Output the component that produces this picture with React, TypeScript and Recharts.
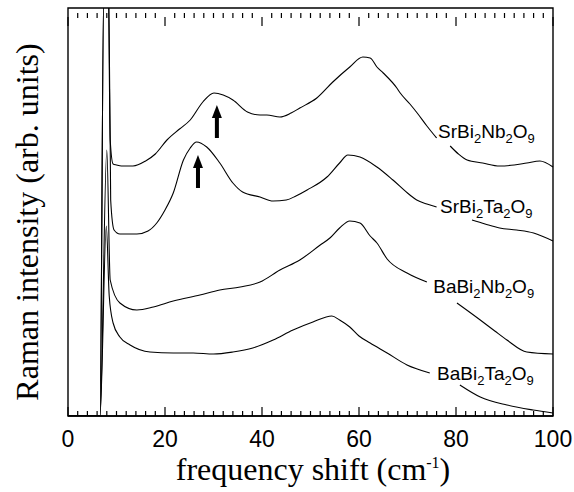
import { LineChart, Line, XAxis, YAxis, ReferenceDot, ReferenceArea } from "recharts";

// frequency shift (cm-1) and intensity (arb. units) for each sample; null = gap behind the label
const srNbFreq = [0, 6.6, 7.4, 8.3, 8.7, 9.3, 10, 11, 13.4, 16, 18, 20.4, 23, 25.2, 27.8, 30.1, 32, 34, 37, 39.6, 41, 43.7, 46, 47.8, 51.3, 54.6, 58.1, 60.8, 62.3, 63.7, 65, 67.8, 68.5, 70.5, 72, 74, 76, 77.5, 78.8, 80.5, 82.3, 85.5, 89, 92, 94.6, 97.3, 100];
const srNbInt = [0, 0, 430, 430, 276, 252, 251, 250, 250, 255, 262, 276, 287, 296, 314, 323, 321, 316, 304, 301, 301, 299, 303, 308, 318, 334, 349, 359, 358, 349, 343, 328, 323, 312, 303, 290, 278, null, 270, 262, 256, 253, 250, 251, 253, 255, 249];

const srTaFreq = [0, 6.6, 7.4, 8.4, 8.8, 9.5, 10.7, 14.2, 16.5, 18.3, 20, 21.7, 23.8, 25.2, 26.5, 28.6, 31.3, 34, 36, 39.6, 42.3, 45, 47, 49.3, 53.4, 56, 57.7, 60.2, 63.7, 67, 70.5, 71.9, 74, 76, 79, 83.3, 86, 89, 92.5, 96, 100];
const srTaInt = [0, 0, 430, 430, 216, 186, 182, 182, 185, 193, 206, 223, 256, 268, 274, 269, 253, 233, 224, 219, 215, 216, 220, 226, 239, 253, 261, 259, 249, 236, 221, 216, 212, 209, null, 196, 192, 188, 186, 183, 175];

const baNbFreq = [0, 6.6, 8.0, 8.7, 10.7, 14.2, 17.6, 21.7, 27.2, 31.3, 35.5, 39.6, 43.7, 47.8, 52, 54, 56, 58.1, 60.2, 62.3, 63.7, 65.8, 69.9, 74, 77, 80.2, 85, 88, 90.5, 94.6, 100];
const baNbInt = [0, 0, 266, 136, 113, 106, 109, 115, 121, 126, 129, 134, 146, 156, 171, 178, 188, 195, 193, 180, 173, 157, 143, 134, null, 113, 96, 85, 76, 64, 62];

const baTaFreq = [0, 6.6, 7.9, 8.5, 9.3, 10.7, 12.8, 16.9, 21.7, 25.8, 30, 34, 38.1, 42.3, 46.4, 50.5, 54.4, 56, 58.1, 60, 62.3, 65.8, 69.9, 74.6, 77.5, 80.8, 85, 90.5, 95.9, 100];
const baTaInt = [0, 0, 190, 120, 93, 79, 71, 64, 63, 63, 62, 64, 68, 76, 86, 94, 100, 96, 89, 80, 73, 63, 51, 43, null, 31, 19, 11, 6, 3];

const sampleNames = ["SrBi2Nb2O9", "SrBi2Ta2O9", "BaBi2Nb2O9", "BaBi2Ta2O9"];
const labelFreq = [76.3, 76.7, 75.3, 76.1];
const labelInt = [278, 203, 123, 36];

const arrowFreq = [30.7, 26.8];
const arrowInt = [311, 261];

const Y_MAX = 408;
const majorTicks = [0, 20, 40, 60, 80, 100];
const allTicks: number[] = [];
for (let t = 0; t <= 100; t += 2) allTicks.push(t);

const toRows = (f: number[], v: (number | null)[]) => f.map((x, i) => ({ f: x, v: v[i] }));
const series = [
  toRows(srNbFreq, srNbInt),
  toRows(srTaFreq, srTaInt),
  toRows(baNbFreq, baNbInt),
  toRows(baTaFreq, baTaInt),
];

const sans = "'Liberation Sans', Arial, sans-serif";
const serif = "'Liberation Serif', 'Times New Roman', serif";

const tickLen = (v: number) => (majorTicks.includes(v) ? 9 : 5);

const BottomTick = (props: any) => {
  const { x, y, payload } = props;
  const major = majorTicks.includes(payload.value);
  return (
    <g>
      <line x1={x} x2={x} y1={y} y2={y - tickLen(payload.value)} stroke="#000" strokeWidth={1.2} />
      {major && (
        <text x={x} y={y + 31} textAnchor="middle" fontFamily={sans} fontSize={23} fill="#000">
          {payload.value}
        </text>
      )}
    </g>
  );
};

const TopTick = (props: any) => {
  const { x, y, payload } = props;
  return <line x1={x} x2={x} y1={y} y2={y + tickLen(payload.value)} stroke="#000" strokeWidth={1.2} />;
};

// digits become subscripts
const Formula = ({ cx, cy, name }: any) => {
  const parts = name.match(/[A-Za-z]+|\d+/g) as string[];
  return (
    <text x={cx} y={cy} fontFamily={sans} fontSize={19} fill="#000">
      {parts.map((p, i) =>
        /\d/.test(p) ? (
          <tspan key={i} fontSize={13} dy={5}>{p}</tspan>
        ) : (
          <tspan key={i} dy={i === 0 ? 0 : -5}>{p}</tspan>
        )
      )}
    </text>
  );
};

const Arrow = ({ cx, cy }: any) => (
  <g fill="#000">
    <polygon points={`${cx},${cy} ${cx - 5},${cy + 13} ${cx + 5},${cy + 13}`} />
    <rect x={cx - 2} y={cy + 11} width={4} height={22} />
  </g>
);

// top tick anchored at its inner end (one y unit = one pixel), running up to the frame
const TopMark = ({ cx, cy, len }: any) => (
  <rect x={cx - 0.6} y={cy - len} width={1.2} height={len} fill="#000" />
);

export default function App() {
  return (
    <div style={{ position: "absolute", left: 0, top: 0, width: 574, height: 492, background: "#fff" }}>
      <LineChart width={574} height={492} margin={{ top: 8, right: 21, left: 68, bottom: 0 }}>
        <XAxis
          dataKey="f"
          type="number"
          domain={[0, 100]}
          ticks={allTicks}
          interval={0}
          tickSize={0}
          tickMargin={0}
          tickLine={false}
          tick={<BottomTick />}
          height={76}
          axisLine={{ stroke: "#000", strokeWidth: 1.4 }}
        />
        <XAxis
          xAxisId="top"
          orientation="top"
          dataKey="f"
          type="number"
          domain={[0, 100]}
          ticks={allTicks}
          interval={0}
          tickSize={0}
          tickMargin={0}
          tickLine={false}
          tick={<TopTick />}
          height={0}
          axisLine={{ stroke: "#000", strokeWidth: 1.4 }}
        />
        <YAxis type="number" domain={[0, Y_MAX]} allowDataOverflow width={0} tick={false} tickLine={false} axisLine={{ stroke: "#000", strokeWidth: 1.4 }} />
        {series.map((d, i) => (
          <Line
            key={i}
            data={d}
            dataKey="v"
            type="monotone"
            stroke="#000"
            strokeWidth={1.1}
            dot={false}
            connectNulls={false}
            isAnimationActive={false}
          />
        ))}
        <ReferenceArea x1={0} x2={100} y1={0} y2={Y_MAX} fill="none" fillOpacity={0} stroke="#000" strokeWidth={1.4} ifOverflow="visible" />
        {sampleNames.map((n, i) => (
          <ReferenceDot
            key={n}
            x={labelFreq[i]}
            y={labelInt[i]}
            r={0}
            ifOverflow="visible"
            shape={(p: any) => <Formula cx={p.cx} cy={p.cy} name={n} />}
          />
        ))}
        {arrowFreq.map((f, i) => (
          <ReferenceDot
            key={"a" + i}
            x={f}
            y={arrowInt[i]}
            r={0}
            ifOverflow="visible"
            shape={(p: any) => <Arrow cx={p.cx} cy={p.cy} />}
          />
        ))}
        {allTicks.map((t) => (
          <ReferenceDot
            key={"tt" + t}
            x={t}
            y={Y_MAX - tickLen(t)}
            r={0}
            ifOverflow="visible"
            shape={(p: any) => <TopMark cx={p.cx} cy={p.cy + tickLen(t)} len={tickLen(t)} />}
          />
        ))}
      </LineChart>
      <div
        style={{
          position: "absolute",
          left: 27,
          top: 222,
          transform: "translate(-50%, -50%) rotate(-90deg)",
          whiteSpace: "nowrap",
          fontFamily: serif,
          fontSize: 32,
        }}
      >
        Raman intensity (arb. units)
      </div>
      <div
        style={{
          position: "absolute",
          left: 313,
          top: 451,
          transform: "translateX(-50%)",
          whiteSpace: "nowrap",
          fontFamily: serif,
          fontSize: 32,
          lineHeight: "36px",
        }}
      >
        frequency shift (cm<sup style={{ fontSize: 16, lineHeight: 0 }}>-1</sup>)
      </div>
    </div>
  );
}
